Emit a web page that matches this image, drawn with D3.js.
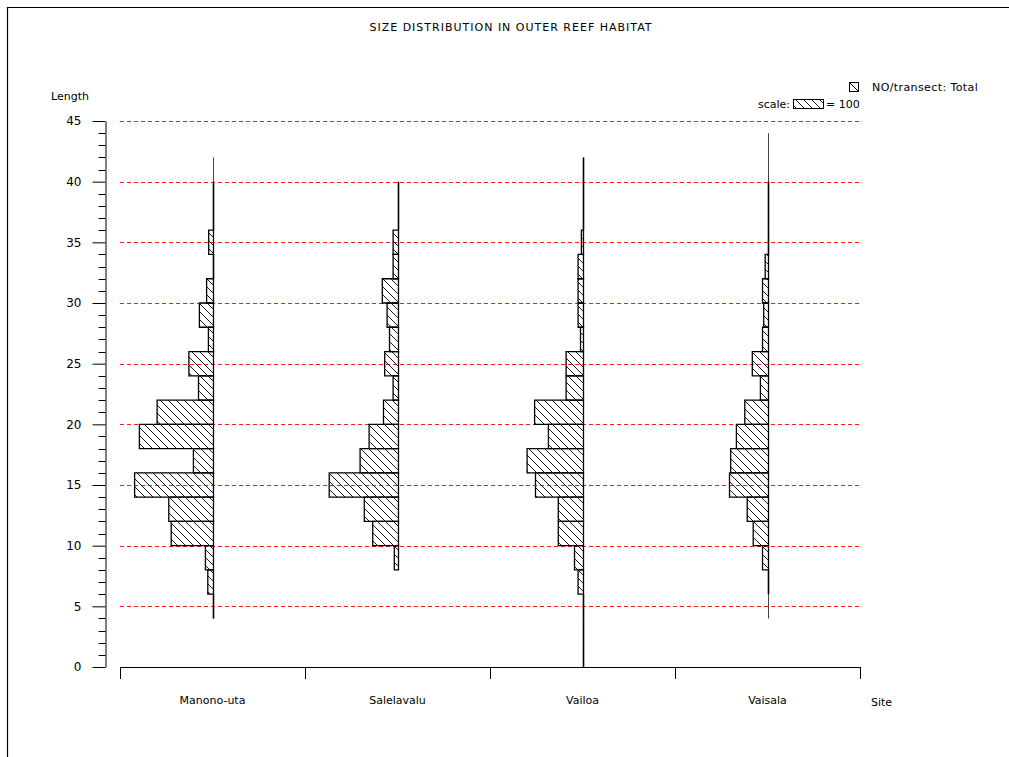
<!DOCTYPE html>
<html>
<head>
<meta charset="utf-8">
<script src="https://cdn.jsdelivr.net/npm/d3@7"></script>
<style>
  html, body { margin: 0; padding: 0; background: #fff; }
  svg text { font-family: "DejaVu Sans", sans-serif; fill: #000; }
</style>
</head>
<body>
<svg id="chart" width="1009" height="757"></svg>
<script>
// Sites along the horizontal axis
const sites = ["Manono-uta", "Salelavalu", "Vailoa", "Vaisala"];

// Lower edge of each 2-unit length class
const binStarts = [0, 2, 4, 6, 8, 10, 12, 14, 16, 18, 20, 22, 24, 26, 28, 30, 32, 34, 36, 38, 40];

// Number per transect in each length class (null = class not drawn)
const manonoUta  = [null, null, 0, 19, 27, 141, 149, 263, 67, 247, 188, 50, 82, 17, 47, 23, 0, 16, 0, 0, null];
const salelavalu = [null, null, null, null, 14, 86, 114, 231, 128, 98, 50, 18, 46, 30, 38, 54, 18, 18, 0, 0, null];
const vailoa     = [0, 0, 0, 18, 30, 84, 84, 160, 188, 117, 163, 58, 58, 10, 18, 18, 18, 7, 0, 0, 0];
const vaisala    = [null, null, null, 0, 20, 51, 71, 130, 126, 107, 79, 27, 54, 20, 16, 20, 11, 0, 0, 0, null];

// Length range covered by each site's reference line
const lineLow  = [4, 8, 0, 4];
const lineHigh = [42, 40, 42, 44];

const majorTicks = [0, 5, 10, 15, 20, 25, 30, 35, 40, 45];
const gridLines = [5, 10, 15, 20, 25, 30, 35, 40, 45];
const scaleValue = 100;

const seriesBySite = [manonoUta, salelavalu, vailoa, vaisala];

const svg = d3.select("#chart");

const y = d3.scaleLinear().domain([0, 45]).range([667, 121]);
const x = d3.scaleBand().domain(sites).range([120, 860]);
const w = d3.scaleLinear().domain([0, 100]).range([0, 30]);
const base = s => x(s) + x.bandwidth() / 2;

// Hatch fill
const defs = svg.append("defs");
const pat = defs.append("pattern")
  .attr("id", "hatch")
  .attr("patternUnits", "userSpaceOnUse")
  .attr("width", 8).attr("height", 8);
pat.append("path")
  .attr("d", "M-2,-2 L10,10 M-2,6 L2,10 M6,-2 L10,2")
  .attr("stroke", "#000").attr("stroke-width", 0.9).attr("fill", "none");

// Frame
svg.append("path")
  .attr("d", "M7.5,757 V7.5 H1009")
  .attr("fill", "none").attr("stroke", "#000").attr("stroke-width", 1.2);

// Title
svg.append("text")
  .attr("x", 511).attr("y", 31)
  .attr("text-anchor", "middle")
  .attr("font-size", 11)
  .attr("letter-spacing", 1)
  .text("SIZE DISTRIBUTION IN OUTER REEF HABITAT");

// Reference grid lines
svg.append("g").selectAll("line")
  .data(gridLines).join("line")
  .attr("x1", 120).attr("x2", 860)
  .attr("y1", d => Math.round(y(d)) + 0.5)
  .attr("y2", d => Math.round(y(d)) + 0.5)
  .attr("stroke", "#ff1a1a").attr("stroke-width", 1)
  .attr("shape-rendering", "crispEdges")
  .attr("stroke-dasharray", "4,3");

// Vertical axis with major and minor ticks
const yAxis = svg.append("g").attr("transform", "translate(105.5,0)");
yAxis.call(d3.axisLeft(y).tickValues(majorTicks).tickSize(13).tickSizeOuter(0).tickPadding(11));
const minor = d3.range(0, 46).filter(v => v % 5 !== 0);
yAxis.append("g").selectAll("line")
  .data(minor).join("line")
  .attr("x1", -7).attr("x2", 0)
  .attr("y1", d => Math.round(y(d)) + 0.5).attr("y2", d => Math.round(y(d)) + 0.5)
  .attr("stroke", "#000");
yAxis.selectAll("path.domain").attr("stroke", "#000");
yAxis.selectAll(".tick line").attr("stroke", "#000");
yAxis.selectAll(".tick text").attr("font-size", 12).attr("font-family", "DejaVu Sans, sans-serif").attr("fill", "#000");

svg.append("text")
  .attr("x", 51).attr("y", 100)
  .attr("font-size", 11)
  .text("Length");

// Horizontal axis
const xEdges = sites.map(s => x(s)).concat([x.range()[1]]);
const xAxis = svg.append("g");
xAxis.append("line")
  .attr("x1", x.range()[0]).attr("x2", x.range()[1])
  .attr("y1", 667.5).attr("y2", 667.5)
  .attr("stroke", "#000");
xAxis.selectAll("line.tick")
  .data(xEdges).join("line").attr("class", "tick")
  .attr("x1", d => Math.round(d) + 0.5).attr("x2", d => Math.round(d) + 0.5)
  .attr("y1", 667).attr("y2", 679)
  .attr("stroke", "#000");
xAxis.selectAll("text")
  .data(sites).join("text")
  .attr("x", d => base(d)).attr("y", 704)
  .attr("text-anchor", "middle")
  .attr("font-size", 11)
  .text(d => d);

svg.append("text")
  .attr("x", 871).attr("y", 706)
  .attr("font-size", 11)
  .text("Site");

// Per-site histograms, bars extending left from the site line
sites.forEach((s, i) => {
  const bx = Math.round(base(s)) + 0.5;
  const g = svg.append("g");
  g.append("line")
    .attr("x1", bx).attr("x2", bx)
    .attr("y1", y(lineHigh[i])).attr("y2", y(lineLow[i]))
    .attr("stroke", "#444").attr("stroke-width", 1);
  const bars = binStarts
    .map((b, j) => ({ lo: b, hi: b + 2, v: seriesBySite[i][j] }))
    .filter(d => d.v !== null);
  g.selectAll("path")
    .data(bars).join("path")
    .attr("d", d => {
      const y0 = y(d.lo), y1 = y(d.hi), left = bx - w(d.v);
      return `M${bx},${y0} H${left} V${y1} H${bx} Z`;
    })
    .attr("fill", d => d.v > 0 ? "url(#hatch)" : "none")
    .attr("stroke", "#000")
    .attr("stroke-width", d => d.v > 0 ? 1.3 : 1.6);
});

// Legend
const lg = svg.append("g");
lg.append("rect")
  .attr("x", 849.5).attr("y", 82.5).attr("width", 9).attr("height", 9)
  .attr("fill", "#fff").attr("stroke", "#000");
lg.append("line")
  .attr("x1", 849.5).attr("y1", 82.5).attr("x2", 858.5).attr("y2", 91.5)
  .attr("stroke", "#000");
lg.append("text")
  .attr("x", 872).attr("y", 91)
  .attr("font-size", 11)
  .attr("letter-spacing", 0.4)
  .text("NO/transect: Total");
lg.append("text")
  .attr("x", 790).attr("y", 108)
  .attr("text-anchor", "end")
  .attr("font-size", 11)
  .text("scale:");
lg.append("rect")
  .attr("x", 793.5).attr("y", 99.5).attr("width", w(scaleValue)).attr("height", 9)
  .attr("fill", "url(#hatch)").attr("stroke", "#000");
lg.append("text")
  .attr("x", 826).attr("y", 108)
  .attr("font-size", 11)
  .text("= " + scaleValue);
</script>
</body>
</html>
